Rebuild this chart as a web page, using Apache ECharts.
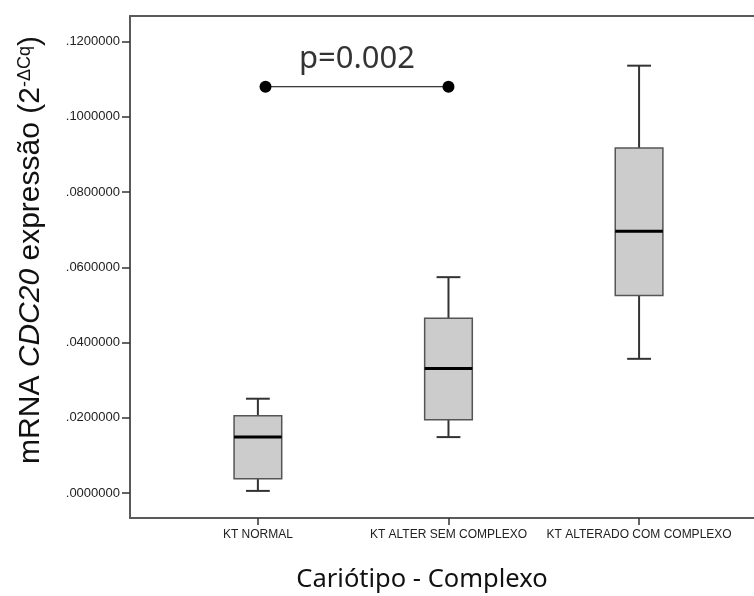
<!DOCTYPE html>
<html>
<head>
<meta charset="utf-8">
<script src="https://cdn.jsdelivr.net/npm/echarts@6/dist/echarts.min.js"></script>
<style>
  html, body { margin: 0; padding: 0; background: #fff; }
  #chart { width: 754px; height: 596px; }
</style>
</head>
<body>
<div id="chart"></div>
<script>
// Karyotype groups (positions 1..3 on the x axis)
const categories = ['KT NORMAL', 'KT ALTER SEM COMPLEXO', 'KT ALTERADO COM COMPLEXO'];
// Five-number summaries per group: [min whisker, Q1, median, Q3, max whisker]
const lowWhisker  = [0.0006, 0.0149, 0.0357];
const q1Values    = [0.0038, 0.0195, 0.0525];
const medians     = [0.0149, 0.0331, 0.0696];
const q3Values    = [0.0206, 0.0465, 0.0917];
const highWhisker = [0.0251, 0.0574, 0.1136];
// Y axis tick values
const yTicks = [0, 0.02, 0.04, 0.06, 0.08, 0.10, 0.12];
// Significance bracket between group 1 and group 2
const bracketX = [1.04, 2.0];
const bracketY = 0.108;
const pText = 'p=0.002';

const boxData = categories.map((c, i) => [i + 1, lowWhisker[i], q1Values[i], medians[i], q3Values[i], highWhisker[i]]);

function renderBox(params, api) {
  const x = api.value(0);
  const pLow = api.coord([x, api.value(1)]);
  const pQ1 = api.coord([x, api.value(2)]);
  const pMed = api.coord([x, api.value(3)]);
  const pQ3 = api.coord([x, api.value(4)]);
  const pHigh = api.coord([x, api.value(5)]);
  const unit = api.size([1, 0])[0];
  const bw = unit * 0.25;
  const cw = unit * 0.125;
  const cx = pMed[0];
  const lineStyle = { stroke: '#333', lineWidth: 2 };
  return {
    type: 'group',
    children: [
      { type: 'line', shape: { x1: cx, y1: pLow[1], x2: cx, y2: pQ1[1] }, style: lineStyle },
      { type: 'line', shape: { x1: cx, y1: pQ3[1], x2: cx, y2: pHigh[1] }, style: lineStyle },
      { type: 'line', shape: { x1: cx - cw / 2, y1: pLow[1], x2: cx + cw / 2, y2: pLow[1] }, style: lineStyle },
      { type: 'line', shape: { x1: cx - cw / 2, y1: pHigh[1], x2: cx + cw / 2, y2: pHigh[1] }, style: lineStyle },
      { type: 'rect', shape: { x: cx - bw / 2, y: pQ3[1], width: bw, height: pQ1[1] - pQ3[1] },
        style: { fill: '#cccccc', stroke: '#555', lineWidth: 1.5 } },
      { type: 'line', shape: { x1: cx - bw / 2, y1: pMed[1], x2: cx + bw / 2, y2: pMed[1] },
        style: { stroke: '#000', lineWidth: 3 } }
    ]
  };
}

const chart = echarts.init(document.getElementById('chart'), null, { renderer: 'canvas' });
const axisColor = '#5a5a5a';
const xMin = 0.329, xMax = 3.603;

chart.setOption({
  animation: false,
  backgroundColor: '#fff',
  grid: { left: 130, right: 0, top: 16, bottom: 78 },
  xAxis: [
    {
      type: 'value', min: xMin, max: xMax, position: 'bottom',
      splitLine: { show: false },
      axisLine: { show: true, onZero: false, lineStyle: { color: axisColor, width: 2 } },
      axisTick: { show: true, length: 7, customValues: [1, 2, 3], lineStyle: { color: '#333', width: 1.5 } },
      axisLabel: {
        customValues: [1, 2, 3],
        formatter: v => categories[Math.round(v) - 1] || '',
        fontFamily: 'Liberation Sans', fontSize: 12, color: '#222', margin: 11
      }
    },
    {
      type: 'value', min: xMin, max: xMax, position: 'top',
      splitLine: { show: false },
      axisLine: { show: true, onZero: false, lineStyle: { color: axisColor, width: 2 } },
      axisTick: { show: false }, axisLabel: { show: false }
    }
  ],
  yAxis: {
    type: 'value', min: -0.0066, max: 0.1268,
    splitLine: { show: false },
    axisLine: { show: true, onZero: false, lineStyle: { color: axisColor, width: 2 } },
    axisTick: { show: true, length: 8, customValues: yTicks, lineStyle: { color: '#333', width: 1.5 } },
    axisLabel: {
      customValues: yTicks,
      formatter: v => v.toFixed(7).replace(/^0/, ''),
      fontFamily: 'Liberation Sans', fontSize: 13, color: '#222', margin: 10
    }
  },
  graphic: [
    {
      type: 'text', x: 422, y: 580,
      style: {
        text: 'Cariótipo - Complexo', fill: '#111',
        font: '25.5px "Noto Sans"', textAlign: 'center', textVerticalAlign: 'middle'
      }
    },
    {
      type: 'text', x: 31, y: 250, rotation: Math.PI / 2,
      style: {
        text: '{n|mRNA }{i|CDC20}{n| expressão (2}{s|-ΔCq}{n|)}',
        textAlign: 'center', textVerticalAlign: 'middle', fill: '#111',
        rich: {
          n: { fontFamily: 'Liberation Sans', fontSize: 30, fill: '#111', verticalAlign: 'bottom' },
          i: { fontFamily: 'Liberation Sans', fontSize: 30, fontStyle: 'italic', fill: '#111', verticalAlign: 'bottom' },
          s: { fontFamily: 'Liberation Sans', fontSize: 18, fill: '#111', verticalAlign: 'top' }
        }
      }
    }
  ],
  series: [
    {
      type: 'custom', name: 'CDC20', renderItem: renderBox,
      encode: { x: 0, y: [1, 2, 3, 4, 5] },
      data: boxData, z: 3
    },
    {
      type: 'line', name: 'bracket',
      data: bracketX.map(x => [x, bracketY]),
      symbol: 'circle', symbolSize: 12, showSymbol: true,
      itemStyle: { color: '#000' },
      lineStyle: { color: '#000', width: 1 },
      z: 4
    },
    {
      type: 'scatter', name: 'pvalue',
      data: [[(bracketX[0] + bracketX[1]) / 2, bracketY]],
      symbolSize: 0,
      label: {
        show: true, position: 'top', distance: 12,
        formatter: pText,
        fontFamily: 'Noto Sans', fontSize: 31, color: '#000'
      }
    }
  ]
});
</script>
</body>
</html>
